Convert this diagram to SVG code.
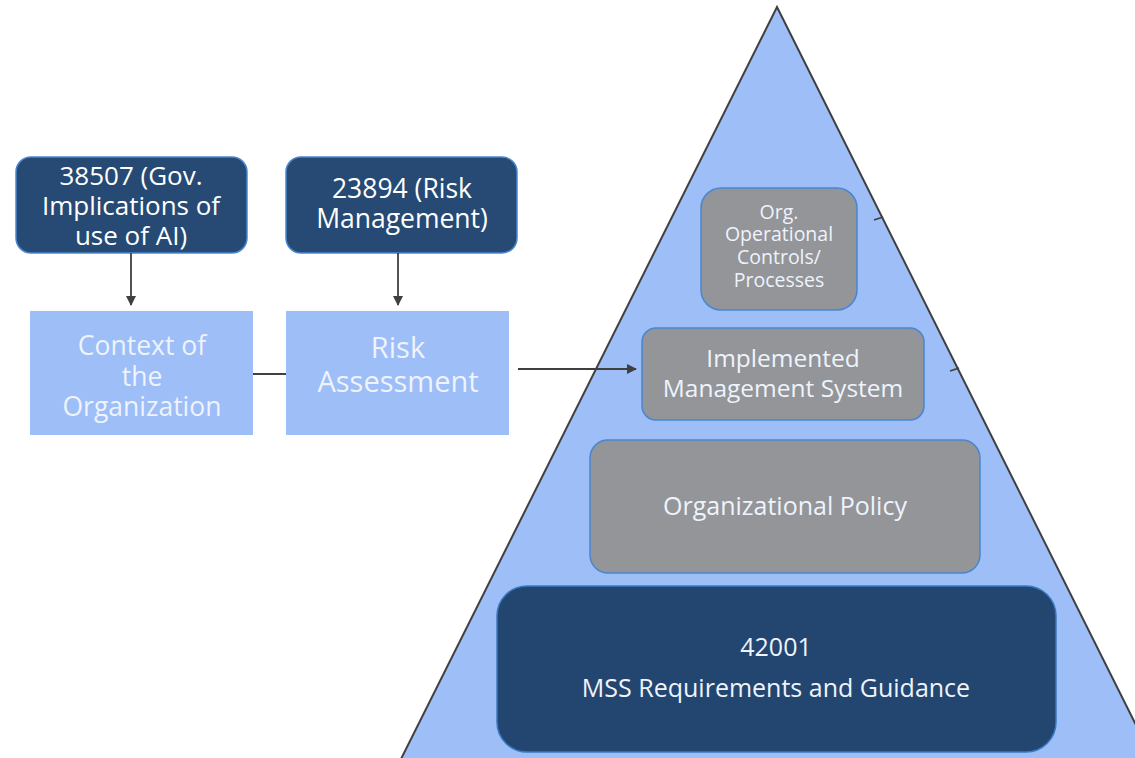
<svg xmlns="http://www.w3.org/2000/svg" width="1135" height="758" viewBox="0 0 1135 758">
<defs>
<style>
text{font-family:"Open Sans","Noto Sans","DejaVu Sans",sans-serif;text-anchor:middle;fill:#FFFFFF}
.dark{fill:#264A74;stroke:#4A86D0;stroke-width:1.5}
.light{fill:#9DBEF7}
.gray{fill:#939598;stroke:#4A86D0;stroke-width:1.5}
.lt{fill:#EEF3FD}
.conn{stroke:#404040;stroke-width:1.8;fill:none}
</style>
<marker id="ah" viewBox="0 0 10 10" refX="9" refY="5" markerWidth="10" markerHeight="10" orient="auto" markerUnits="userSpaceOnUse">
<path d="M0,0 L10,5 L0,10 z" fill="#404040"/>
</marker>
</defs>
<rect width="1135" height="758" fill="#FFFFFF"/>
<g id="pyramid">
<polygon points="777,7 1153,759 401,759" fill="#9DBEF7" stroke="#404040" stroke-width="2"/>
</g>
<g id="n38507">
<rect class="dark" x="16" y="157" width="231" height="96" rx="15"/>
<text font-size="26"><tspan x="131" y="185">38507 (Gov.</tspan><tspan x="131" y="215">Implications of</tspan><tspan x="131" y="245">use of AI)</tspan></text>
</g>
<g id="n23894">
<rect class="dark" x="286" y="157" width="231" height="96" rx="15"/>
<text font-size="26.5"><tspan x="402" y="198">23894 (Risk</tspan><tspan x="402" y="228">Management)</tspan></text>
</g>
<g id="context">
<rect class="light" x="30" y="311" width="223" height="124"/>
<text class="lt" font-size="26.5"><tspan x="142" y="355">Context of</tspan><tspan x="142" y="386">the</tspan><tspan x="142" y="416">Organization</tspan></text>
</g>
<g id="risk">
<rect class="light" x="286" y="311" width="223" height="124"/>
<text class="lt" font-size="29"><tspan x="398" y="358">Risk</tspan><tspan x="398" y="392">Assessment</tspan></text>
</g>
<g id="controls">
<rect class="gray" x="701" y="188" width="156" height="122" rx="20"/>
<text class="lt" font-size="19.5"><tspan x="779" y="219">Org.</tspan><tspan x="779" y="241">Operational</tspan><tspan x="779" y="264">Controls/</tspan><tspan x="779" y="287">Processes</tspan></text>
</g>
<g id="implemented">
<rect class="gray" x="642" y="328" width="282" height="92" rx="14"/>
<text class="lt" font-size="24.5"><tspan x="783" y="367">Implemented</tspan><tspan x="783" y="397">Management System</tspan></text>
</g>
<g id="policy">
<rect class="gray" x="590" y="440" width="390" height="133" rx="18"/>
<text class="lt" font-size="25" x="785" y="515">Organizational Policy</text>
</g>
<g id="n42001">
<rect x="497" y="586" width="559" height="166" rx="30" fill="#22466F" stroke="#3A78C2" stroke-width="1.5"/>
<text class="lt" font-size="25"><tspan x="776" y="656">42001</tspan><tspan x="776" y="697">MSS Requirements and Guidance</tspan></text>
</g>
<g id="connectors">
<line class="conn" x1="131" y1="253" x2="131" y2="305" marker-end="url(#ah)"/>
<line class="conn" x1="398" y1="253" x2="398" y2="305" marker-end="url(#ah)"/>
<line class="conn" x1="253" y1="374" x2="286" y2="374" stroke="#707070"/>
<line class="conn" x1="518" y1="369" x2="636" y2="369" marker-end="url(#ah)"/>
<line class="conn" x1="874" y1="220" x2="883" y2="217" stroke-width="2.5"/>
<line class="conn" x1="950" y1="371" x2="959" y2="368" stroke-width="2.5"/>
</g>
</svg>
